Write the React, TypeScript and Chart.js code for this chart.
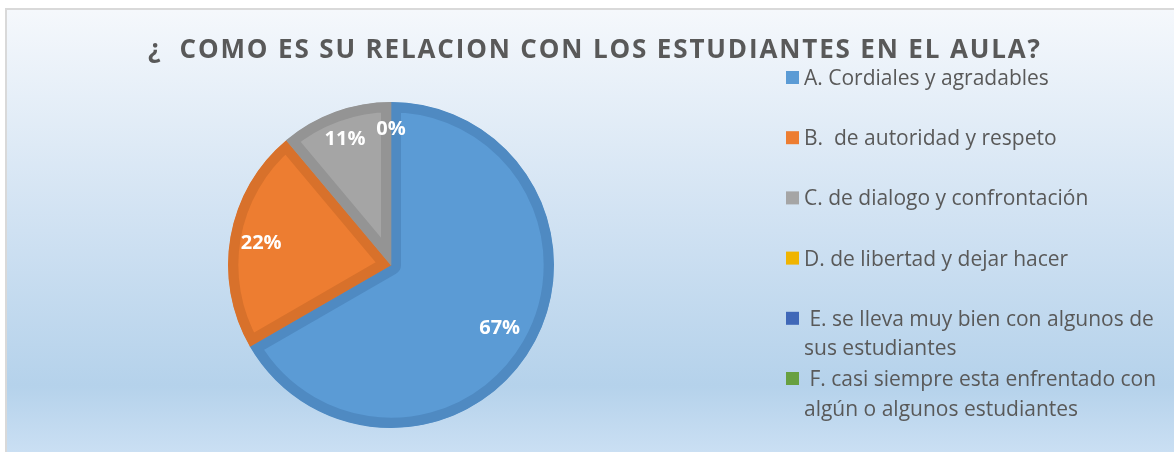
import React, { useEffect, useRef } from "react";
import { Chart, registerables } from "chart.js";

Chart.register(...registerables);

const TITLE = "¿  COMO ES SU RELACION CON LOS ESTUDIANTES EN EL AULA?";
const CATEGORIES: string[][] = [
  ["A. Cordiales y agradables"],
  ["B.  de autoridad y respeto"],
  ["C. de dialogo y confrontación"],
  ["D. de libertad y dejar hacer"],
  [" E. se lleva muy bien con algunos de", "sus estudiantes"],
  [" F. casi siempre esta enfrentado con", "algún o algunos estudiantes"],
];
const VALUES = [6, 2, 1, 0, 0, 0];
const FILL_COLORS = ["#5b9bd5", "#ed7d31", "#a5a5a5", "#ffc000", "#4472c4", "#70ad47"];
const BORDER_COLORS = ["#4f8ac2", "#d8712b", "#949494", "#e6ad00", "#3d66b0", "#64993f"];
const LEGEND_COLORS = ["#5b9bd5", "#ed7d31", "#a5a5a5", "#f0b400", "#4068b8", "#68a040"];

const FONT = "'Open Sans', 'DejaVu Sans', sans-serif";

const decorPlugin = {
  id: "decor",
  beforeDraw(chart: any) {
    const { ctx, width, height } = chart;
    ctx.save();
    ctx.fillStyle = "#ffffff";
    ctx.fillRect(0, 0, width, height);
    const g = ctx.createLinearGradient(0, 10, 0, height);
    g.addColorStop(0, "#f5f8fc");
    g.addColorStop(0.5, "#cfe1f2");
    g.addColorStop(0.85, "#b5d2eb");
    g.addColorStop(1, "#cadff3");
    ctx.fillStyle = g;
    ctx.fillRect(7, 10, width - 7, height - 10);
    ctx.fillStyle = "#d9d9d9";
    ctx.fillRect(5, 8, width - 5, 2);
    ctx.fillRect(5, 8, 2, height - 8);
    ctx.restore();
  },
  afterDraw(chart: any) {
    const { ctx } = chart;
    ctx.save();
    // title
    ctx.font = `bold 26px ${FONT}`;
    ctx.fillStyle = "#595959";
    ctx.textBaseline = "alphabetic";
    ctx.textAlign = "left";
    const target = 892;
    const w = ctx.measureText(TITLE).width;
    const extra = Math.max(0, (target - w) / (TITLE.length - 1));
    (ctx as any).letterSpacing = `${extra}px`;
    ctx.fillText(TITLE, 148, 58);
    (ctx as any).letterSpacing = "0px";

    // data labels
    const meta = chart.getDatasetMeta(0);
    const total = VALUES.reduce((a, b) => a + b, 0);
    let zeroShown = false;
    ctx.font = `bold 20px ${FONT}`;
    ctx.fillStyle = "#ffffff";
    ctx.textAlign = "center";
    ctx.textBaseline = "middle";
    meta.data.forEach((arc: any, i: number) => {
      const v = VALUES[i];
      if (v === 0) {
        if (zeroShown) return;
        zeroShown = true;
      }
      const { x, y, startAngle, endAngle, outerRadius } = arc.getProps(
        ["x", "y", "startAngle", "endAngle", "outerRadius"],
        true
      );
      const sweep = endAngle - startAngle;
      const mid = (startAngle + endAngle) / 2;
      const f = 0.77 + 0.07 * (1 - Math.min(1, sweep / Math.PI));
      const r = outerRadius * f;
      const txt = Math.round((v / total) * 100) + "%";
      ctx.fillText(txt, x + Math.cos(mid) * r, y + Math.sin(mid) * r + 1);
    });

    // legend
    ctx.font = `21px ${FONT}`;
    ctx.textAlign = "left";
    ctx.textBaseline = "alphabetic";
    const sqX = 786;
    const textX = 804;
    const sq = 13;
    const firstCenter = 77.5;
    const rowGap = 60.2;
    const lineH = 29.5;
    CATEGORIES.forEach((lines, i) => {
      const cy = firstCenter + i * rowGap;
      ctx.fillStyle = LEGEND_COLORS[i];
      ctx.fillRect(sqX, cy - sq / 2, sq, sq);
      ctx.fillStyle = "#595959";
      lines.forEach((ln, j) => {
        ctx.fillText(ln, textX, cy + 7.5 + j * lineH);
      });
    });
    ctx.restore();
  },
};

export default function App() {
  const ref = useRef<HTMLCanvasElement | null>(null);
  useEffect(() => {
    if (!ref.current) return;
    const chart = new Chart(ref.current, {
      type: "pie",
      data: {
        labels: CATEGORIES.map((l) => l.join(" ").trim()),
        datasets: [
          {
            data: VALUES,
            backgroundColor: FILL_COLORS,
            borderColor: BORDER_COLORS,
            borderWidth: 10,
            borderAlign: "inner",
            hoverOffset: 0,
            offset: 0,
          } as any,
        ],
      },
      options: {
        responsive: false,
        animation: false,
        devicePixelRatio: 1,
        layout: { padding: { left: 228, top: 102, right: 620, bottom: 24 } },
        plugins: {
          legend: { display: false },
          title: { display: false },
          tooltip: { enabled: false },
        },
        events: [],
      },
      plugins: [decorPlugin],
    });
    return () => chart.destroy();
  }, []);
  return (
    <div style={{ position: "absolute", left: 0, top: 0, width: 1174, height: 452 }}>
      <canvas ref={ref} width={1174} height={452} style={{ display: "block" }} />
    </div>
  );
}
